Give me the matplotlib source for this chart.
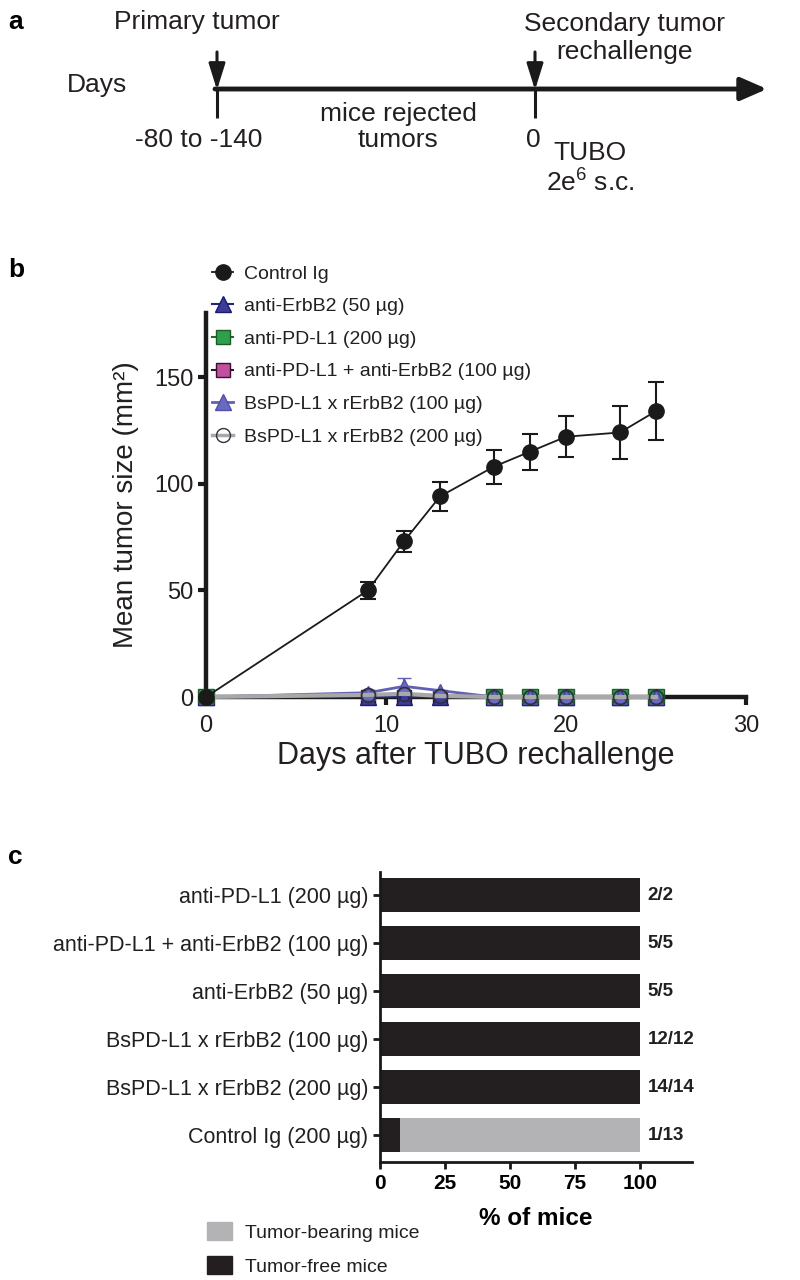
import matplotlib
matplotlib.use("Agg")
import matplotlib.pyplot as plt
from matplotlib.lines import Line2D
from matplotlib.patches import Patch, FancyArrowPatch
import numpy as np

plt.rcParams["font.family"] = ["Liberation Sans", "DejaVu Sans"]
plt.rcParams["mathtext.fontset"] = "custom"
plt.rcParams["mathtext.rm"] = "Liberation Sans"
plt.rcParams["mathtext.it"] = "Liberation Sans:italic"
plt.rcParams["mathtext.bf"] = "Liberation Sans:bold"

# ---- panel b: tumour growth after rechallenge ----
days = [0, 9, 11, 13, 16, 18, 20, 23, 25]
control_mean = [0, 50, 73, 94, 108, 115, 122, 124, 134]
control_err = [0, 4, 5, 7, 8, 8.5, 9.5, 12.5, 13.5]
erbb2_mean = [0, 0, 0, 0, 0, 0, 0, 0, 0]
pdl1_days = [0, 16, 18, 20, 23, 25]
pdl1_mean = [0, 0, 0, 0, 0, 0]
combo_days = [0, 9, 11, 13]
combo_mean = [0, 0, 0, 0]
bs100_mean = [0, 2, 5, 3, 0, 0, 0, 0, 0]
bs100_err = [0, 0, 4, 0, 0, 0, 0, 0, 0]
bs200_mean = [0, 1, 1.5, 0.5, 0, 0, 0, 0, 0]

# ---- panel c: fraction of tumour-free mice ----
groups = ["anti-PD-L1 (200 µg)", "anti-PD-L1 + anti-ErbB2 (100 µg)",
          "anti-ErbB2 (50 µg)", "BsPD-L1 x rErbB2 (100 µg)",
          "BsPD-L1 x rErbB2 (200 µg)", "Control Ig (200 µg)"]
free_pct = [100, 100, 100, 100, 100, 7.7]
bearing_pct = [0, 0, 0, 0, 0, 92.3]
counts = ["2/2", "5/5", "5/5", "12/12", "14/14", "1/13"]

W, H = 800, 1280
fig = plt.figure(figsize=(W / 100, H / 100), dpi=100)

# panel letters
for letter, ypix in [("a", 22), ("b", 270), ("c", 857)]:
    fig.text(8 / W, 1 - ypix / H, letter, fontsize=19, fontweight="bold", va="center")

# ---------------- panel a (schematic timeline) ----------------
axa = fig.add_axes([0, 1 - 200 / H, 1, 200 / H])
axa.set_xlim(0, W); axa.set_ylim(200, 0); axa.axis("off")
axa.add_patch(FancyArrowPatch((215, 89), (767, 89), arrowstyle="-|>,head_length=16,head_width=7",
                              lw=3.5, color="#1a1a1a", mutation_scale=1, shrinkA=0, shrinkB=0))
for xv in (217, 535):
    axa.plot([xv, xv], [89, 118], color="#1a1a1a", lw=2.2, solid_capstyle="butt")
    axa.add_patch(FancyArrowPatch((xv, 52), (xv, 90), arrowstyle="-|>,head_length=16,head_width=5",
                                  lw=2.2, color="#1a1a1a", mutation_scale=1, shrinkA=0, shrinkB=0))
ta = dict(fontsize=19, color="#231f20", ha="center", va="center")
axa.text(197, 22, "Primary tumor", **ta)
axa.text(97, 85, "Days", **ta)
axa.text(199, 140, "-80 to -140", **ta)
axa.text(398, 127, "mice rejected\ntumors", linespacing=1.15, **ta)
axa.text(533, 140, "0", **ta)
axa.text(625, 38, "Secondary tumor\nrechallenge", linespacing=1.2, **ta)
axa.text(590, 153, "TUBO", **ta)
axa.text(590, 183, r"2e$^6$ s.c.", **ta)

# ---------------- panel b ----------------
axb = fig.add_axes([206 / W, 1 - 697 / H, 540 / W, 384 / H])
axb.set_xlim(0, 30)
axb.set_ylim(0, 180)
for s in ("top", "right"):
    axb.spines[s].set_visible(False)
for s in ("left", "bottom"):
    axb.spines[s].set_linewidth(3.2)
    axb.spines[s].set_color("#1a1a1a")
axb.set_xticks([0, 10, 20, 30])
axb.set_yticks([0, 50, 100, 150])
axb.tick_params(width=3, length=6, labelsize=17, color="#1a1a1a", labelcolor="#231f20", pad=3)
axb.tick_params(axis="x", pad=7)

kw = dict(clip_on=False)
axb.plot(combo_days, combo_mean, "-s", color="#2a1a2a", mfc="#c24f9f", mec="#3a1030",
         ms=10, lw=1.5, zorder=3, **kw)
axb.plot(pdl1_days, pdl1_mean, "-s", color="#1d6b30", mfc="#2ea04a", mec="#1d5b2a",
         ms=11, lw=1.5, zorder=4, **kw)
axb.plot(days, erbb2_mean, "-^", color="#25257a", mfc="#3b3b98", mec="#1c1c6e",
         ms=11, lw=1.5, zorder=5, **kw)
axb.errorbar(days, bs100_mean, yerr=bs100_err, fmt="-^", color="#6060b4", mfc="#6a6ac0",
             mec="#5050a8", ms=10, lw=2, capsize=5, elinewidth=1.5, zorder=6, **kw)
axb.plot(days, bs200_mean, "-o", color="#a8a8a8", mfc="none", mec="#303040",
         ms=10, lw=3, mew=1.3, zorder=7, **kw)
axb.errorbar(days, control_mean, yerr=control_err, fmt="-o", color="#1a1a1a", mfc="#1a1a1a",
             ms=11, lw=1.3, capsize=5.5, elinewidth=1.5, capthick=1.5, zorder=8, **kw)

axb.set_xlabel("Days after TUBO rechallenge", fontsize=22, color="#231f20", labelpad=3)
axb.set_ylabel("Mean tumor size (mm²)", fontsize=20, color="#231f20", labelpad=11)

leg_handles = [
    Line2D([], [], color="#1a1a1a", marker="o", ms=11, lw=1.3),
    Line2D([], [], color="#25257a", marker="^", mfc="#3b3b98", mec="#1c1c6e", ms=11, lw=1.5),
    Line2D([], [], color="#1d6b30", marker="s", mfc="#2ea04a", mec="#1d5b2a", ms=10, lw=1.5),
    Line2D([], [], color="#2a1a2a", marker="s", mfc="#c24f9f", mec="#3a1030", ms=10, lw=1.5),
    Line2D([], [], color="#6060b4", marker="^", mfc="#6a6ac0", mec="#5050a8", ms=11, lw=2),
    Line2D([], [], color="#a8a8a8", marker="o", mfc="none", mec="#303040", ms=10, lw=2.5),
]
leg_labels = ["Control Ig", "anti-ErbB2 (50 µg)", "anti-PD-L1 (200 µg)",
              "anti-PD-L1 + anti-ErbB2 (100 µg)", "BsPD-L1 x rErbB2 (100 µg)",
              "BsPD-L1 x rErbB2 (200 µg)"]
fig.legend(leg_handles, leg_labels, loc="upper left", bbox_to_anchor=(212 / W, 1 - 265 / H),
           frameon=False, fontsize=14, handlelength=1.1, handletextpad=0.55,
           labelspacing=0.77, borderpad=0, borderaxespad=0, labelcolor="#231f20")

# ---------------- panel c ----------------
axc = fig.add_axes([380 / W, 1 - 1162 / H, 312 / W, 290 / H])
ypos = np.arange(len(groups))[::-1]
axc.barh(ypos, free_pct, height=0.72, color="#231f20")
axc.barh(ypos, bearing_pct, left=free_pct, height=0.72, color="#b3b3b6")
for y, c in zip(ypos, counts):
    axc.text(103, y, c, fontsize=13.5, fontweight="bold", va="center", ha="left", color="#231f20")
axc.set_xlim(0, 120)
axc.set_ylim(-0.56, 5.48)
axc.set_yticks(ypos)
axc.set_yticklabels(groups, fontsize=15.5, color="#231f20")
axc.set_xticks([0, 25, 50, 75, 100])
for s in ("top", "right"):
    axc.spines[s].set_visible(False)
for s in ("left", "bottom"):
    axc.spines[s].set_linewidth(2)
    axc.spines[s].set_color("#1a1a1a")
axc.tick_params(width=2, length=5, color="#1a1a1a")
axc.tick_params(axis="x", labelsize=15)
for lab in axc.get_xticklabels():
    lab.set_fontweight("bold")
axc.set_xlabel("% of mice", fontsize=17.5, fontweight="bold", labelpad=10)

fig.legend([Patch(color="#b3b3b6"), Patch(color="#231f20")],
           ["Tumor-bearing mice", "Tumor-free mice"], loc="upper left",
           bbox_to_anchor=(207 / W, 1 - 1222 / H), frameon=False, fontsize=14,
           handlelength=1.3, handleheight=1.05, handletextpad=0.67, labelspacing=0.75,
           borderpad=0, borderaxespad=0, labelcolor="#231f20")

fig.savefig("out.png", dpi=100)
